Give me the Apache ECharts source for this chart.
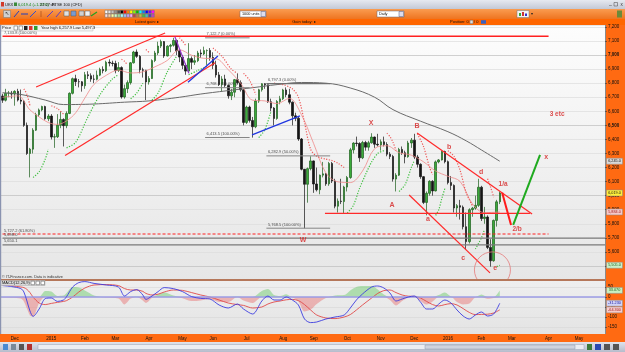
<!DOCTYPE html>
<html><head><meta charset="utf-8">
<script src="https://cdn.jsdelivr.net/npm/echarts@6/dist/echarts.min.js"></script>
<style>html,body{margin:0;padding:0;background:#e6e6e6;overflow:hidden}#c{width:625px;height:352px}</style>
</head><body><div id="c"></div>
<script>
// ---------- DATA (2-trading-day candles, FTSE 100 CFD) ----------
// [open, close, low, high]
const candles = [
[6709,6679,6660,6725],[6679,6729,6670,6760],[6729,6729,6700,6745],[6729,6723,6690,6745],[6723,6742,6640,6750],
[6742,6680,6670,6760],[6680,6672,6650,6755],[6672,6500,6490,6680],[6500,6300,6290,6520],[6300,6331,6130,6340],
[6331,6466,6300,6480],[6466,6576,6460,6590],[6576,6610,6560,6620],[6610,6634,6600,6640],[6634,6547,6540,6640],
[6547,6566,6530,6580],[6566,6417,6400,6580],[6417,6419,6340,6440],[6419,6501,6410,6580],[6501,6542,6480,6600],
[6542,6498,6350,6550],[6498,6585,6480,6600],[6585,6728,6580,6735],[6728,6832,6720,6840],[6832,6811,6780,6860],
[6811,6810,6770,6830],[6810,6782,6740,6815],[6782,6860,6760,6880],[6860,6853,6830,6885],[6853,6829,6810,6870],
[6829,6828,6800,6860],[6828,6857,6820,6890],[6857,6898,6850,6910],[6898,6889,6870,6920],[6889,6949,6880,6960],
[6949,6943,6920,6970],[6943,6940,6920,6960],[6940,6890,6870,6960],[6890,6911,6880,6950],[6911,6702,6690,6920],
[6702,6761,6690,6790],[6761,6804,6730,6820],[6804,6945,6790,6950],[6945,7022,6940,7030],[7022,6991,6980,7040],
[6991,6895,6870,7000],[6895,6892,6840,6910],[6892,6809,6680,6895],[6809,6833,6790,6850],[6833,6961,6830,6970],
[6961,7015,6950,7030],[7015,7064,7000,7095],[7064,7096,7050,7110],[7096,6994,6980,7100],[6994,7063,6990,7070],
[7063,7070,7020,7080],[7070,7104,7060,7123],[7104,7031,7000,7110],[7031,6986,6950,7040],[6986,6927,6900,7000],
[6927,6886,6860,6940],[6886,6975,6880,7085],[6975,6949,6900,6990],[6949,6960,6930,7000],[6960,7015,6950,7030],
[7015,7008,6980,7040],[7008,7032,7000,7060],[7032,7033,6930,7040],[7033,6984,6960,7050],[6984,6928,6900,7020],
[6928,6859,6840,6960],[6859,6790,6780,6880],[6790,6830,6740,6850],[6830,6784,6770,6860],[6784,6710,6690,6790],
[6710,6736,6680,6760],[6736,6825,6700,6830],[6825,6804,6790,6870],[6804,6753,6740,6820],[6753,6521,6500,6760],
[6521,6630,6510,6640],[6630,6535,6520,6640],[6535,6490,6413,6560],[6490,6673,6480,6690],[6673,6753,6660,6760],
[6753,6796,6740,6800],[6796,6789,6760,6800],[6789,6668,6660,6790],[6668,6623,6600,6690],[6623,6549,6500,6630],
[6549,6670,6540,6680],[6670,6689,6650,6710],[6689,6752,6680,6760],[6752,6718,6700,6770],[6718,6665,6650,6760],
[6665,6568,6500,6670],[6568,6551,6530,6590],[6551,6403,6390,6560],[6403,6188,6180,6410],[6188,6081,5768,6100],
[6081,6192,5950,6200],[6192,6247,6180,6280],[6247,6083,6020,6250],[6083,6042,6030,6200],[6042,6146,6010,6150],
[6146,6155,6130,6240],[6155,6084,6070,6160],[6084,6229,6070,6240],[6229,6104,6090,6240],[6104,5925,5910,6120],
[5925,5961,5880,5980],[5961,5958,5940,6120],[5958,6061,5877,6070],[6061,6129,6030,6140],[6129,6326,6120,6340],
[6326,6374,6300,6380],[6374,6371,6350,6420],[6371,6269,6240,6380],[6269,6378,6260,6390],[6378,6345,6320,6390],
[6345,6376,6320,6390],[6376,6417,6370,6444],[6417,6366,6340,6420],[6366,6361,6350,6440],[6361,6383,6320,6400],
[6383,6364,6350,6420],[6364,6295,6280,6380],[6295,6279,6260,6310],[6279,6118,6100,6290],[6118,6146,6030,6160],
[6146,6329,6140,6340],[6329,6305,6290,6350],[6305,6277,6230,6320],[6277,6375,6270,6390],[6375,6395,6340,6410],
[6395,6275,6260,6440],[6275,6223,6200,6290],[6223,6135,6120,6230],[6135,5952,5940,6140],[5952,6017,5860,6030],
[6017,6102,6000,6110],[6102,6034,6000,6110],[6034,6240,6030,6250],[6240,6254,6230,6260],[6254,6314,6250,6320],
[6314,6242,6230,6320],[6242,6093,6080,6250],[6093,6073,6040,6140],[6073,5912,5880,6080],[5912,5929,5850,5940],
[5929,5918,5830,5970],[5918,5779,5760,5930],[5779,5673,5620,5880],[5673,5900,5660,5910],[5900,5911,5850,5920],
[5911,5931,5900,6000],[5931,6060,5920,6120],[6060,5837,5820,6070],[5837,5848,5800,5920],[5848,5632,5620,5860],
[5632,5537,5495,5690],[5537,5824,5530,5830],[5824,5956,5780,5970],[5956,6019,5940,6030]
];
// [bucket, value]
const greyMA = [[0,6732],[6,6720],[14,6680],[20,6648],[30,6652],[40,6665],[48,6674],[58,6700],[65,6723],[75,6750],[82,6768],[90,6790],[98,6805],[106,6800],[114,6766],[122,6700],[128,6612],[137,6530],[146,6455],[152,6390],[157,6325],[163,6245]];
const pinkMA = [[0,6700],[5,6710],[9,6610],[12,6560],[15,6520],[18,6507],[21,6532],[24,6590],[27,6695],[30,6792],[34,6856],[38,6893],[42,6873],[46,6881],[50,6917],[54,6962],[58,7038],[62,6999],[66,6977],[70,6974],[74,6896],[78,6802],[82,6679],[86,6674],[90,6655],[94,6692],[98,6575],[102,6370],[106,6162],[110,6098],[114,6093],[118,6175],[122,6335],[126,6355],[130,6306],[134,6288],[138,6241],[142,6175],[146,6138],[150,6101],[154,5943],[158,5879],[163,5884]];
const sarUp = [
 [[10,6130],[12,6170],[14,6260],[15,6330]],
 [[21,6340],[24,6380],[28,6560],[32,6720],[36,6830],[38,6860]],
 [[42,6690],[44,6730],[46,6800]],
 [[49,6680],[51,6730],[54,6880],[57,6990]],
 [[61,6860],[64,6890],[67,6920]],
 [[84,6413],[86,6470],[88,6600]],
 [[113,5877],[115,5930],[117,6050],[119,6150],[121,6240],[123,6300],[125,6320]],
 [[130,6030],[132,6080],[134,6200],[135,6250]],
 [[142,5860],[143,5900],[144,5980],[145,6050]],
 [[155,5620],[157,5700],[158,5760]],
 [[162,5495],[163,5505]]
];
const sarDown = [
 [[7,6760],[8,6720],[9,6640]],
 [[16,6640],[18,6620],[20,6580]],
 [[39,6970],[40,6955],[41,6930]],
 [[47,7040],[48,7020]],
 [[58,7123],[59,7100],[60,7070]],
 [[69,7050],[72,6990],[75,6900],[77,6870]],
 [[79,6870],[81,6820],[83,6720]],
 [[89,6800],[92,6790],[95,6760],[97,6700],[99,6520],[101,6330],[103,6280],[106,6260],[108,6250],[110,6230],[112,6200]],
 [[126,6444],[127,6420],[128,6380],[129,6320]],
 [[136,6440],[138,6350],[140,6200],[141,6150]],
 [[146,6320],[148,6280],[150,6180],[152,6020],[154,5930]],
 [[159,6120],[160,6060],[161,5990]]
];
const fibText  = ['7,133.8 (100.00%)','5,727.2 (61.80%)','5,698.0','5,650.1','7,122.7 (0.00%)','6,768.1 (50.00%)','6,413.5 (100.00%)','6,797.3 (0.00%)','6,282.9 (50.00%)','5,768.5 (100.00%)'];
const fibPrice = [7133.8, 5727.2, 5698, 5650, 7122.7, 6768.1, 6413.5, 6797.3, 6282.9, 5768.5];
const fibFrom  = [0, 0, 0, 0, 66.4, 66.4, 66.4, 86.5, 86.5, 86.5];
const fibTo    = [179, 179, 197.5, 197.5, 81, 81, 81, 107.4, 107.4, 107.4];
const trendRed   = [[[11.0,6773],[53.3,7157]], [[20.5,6286],[69.7,6946]], [[105.7,5874],[172.9,5874]], [[135.9,6446],[173.6,5870]], [[133.3,6005],[159.8,5451]]];
const trendPurple= [[[56.5,7130],[61.1,6870]]];
const trendBlue  = [[[60.8,6806],[70.6,6993]], [[81.8,6432],[97.5,6567]]];
const projRed    = [[163.8,6020],[166.7,5792]];
const projGreen  = [[167.4,5792],[176.2,6290]];
const waveText = ['W','X','A','B','a','b','c','d','e','1/a','2/b','x','3 etc'];
const waveAt   = [[98.5,5685],[120.8,6517],[127.7,5934],[135.9,6496],[139.5,5835],[146.4,6347],[151.0,5558],[156.9,6169],[161.5,5487],[164.1,6084],[168.7,5764],[178.2,6276],[181.8,6581]];
const circleMarks = [[160.6,5472]];
const macdIdx = [0,3,6,7,8,9,10,12,14,16,18,20,21,23,25,27,30,34,38,40,42,44,46,47,49,51,53,56,59,62,65,68,71,74,77,79,82,85,87,89,91,93,95,97,99,101,103,106,109,112,114,116,118,121,123,125,127,129,131,133,135,137,139,141,143,145,147,149,151,153,155,157,159,161,163];
const macdVals = [57,52,42,25,-20,-70,-97,-60,-8,-5,-22,-15,2,50,72,77,68,60,50,5,27,37,10,-12,5,27,47,42,27,2,-7,-10,-40,-55,-35,-60,-85,-20,5,-15,-15,0,-15,-40,-110,-128,-125,-110,-100,-90,-55,-15,15,50,55,45,20,-20,-10,0,5,-25,-60,-60,-35,-15,-30,-65,-95,-110,-90,-75,-95,-85,-31.23];
const signalVals = [60,56,50,47,38,22,0,-30,-38,-32,-27,-22,-18,0,25,45,60,62,57,42,35,35,28,18,10,14,25,35,33,22,10,0,-15,-30,-38,-42,-55,-50,-35,-25,-20,-14,-12,-18,-38,-65,-90,-105,-108,-100,-88,-65,-40,-5,18,32,35,22,10,4,3,-5,-22,-38,-45,-38,-33,-40,-58,-77,-88,-87,-86,-80,-64.30];
const monthNames = ['Jan','Feb','Mar','Apr','May','Jun','Jul','Aug','Sep','Oct','Nov','Dec'];

// ---------- categories: 2-trading-day buckets ----------
const cats = [];
{ let t = Date.UTC(2014,10,19), n = 0;
  while (cats.length < 198) { const d = new Date(t), w = d.getUTCDay();
    if (w !== 0 && w !== 6) { if (n % 2 === 0) cats.push(d.toISOString().slice(0,10)); n++; }
    t += 86400000; } }
const labelIdx = new Set();
for (let i = 1; i < cats.length; i++) if (cats[i].slice(5,7) !== cats[i-1].slice(5,7)) labelIdx.add(i);

const fmt = (v, d) => { const s = Math.abs(v).toFixed(d); const p = s.split('.');
  return (v < 0 ? '-' : '') + p[0].replace(/\B(?=(\d{3})+$)/g, ',') + (p[1] !== undefined ? '.' + p[1] : ''); };
const FONT = 'Liberation Sans, Arial, sans-serif';
const grad = (a, b) => ({type:'linear',x:0,y:0,x2:0,y2:1,colorStops:[{offset:0,color:a},{offset:1,color:b}]});

const series = [];
series.push({type:'candlestick', xAxisIndex:0, yAxisIndex:0, data:candles, barWidth:2, z:3,
  itemStyle:{color:'#3aaa3a', color0:'#151515', borderColor:'#1c5e1c', borderColor0:'#151515', borderWidth:0.7}});
const seg = (data, color, width, type, z, smooth) => ({type:'line', xAxisIndex:1, yAxisIndex:0, data, symbol:'none', silent:true,
  smooth: smooth || false, lineStyle:{color, width, type: type || 'solid'}, z: z || 4});
series.push(seg(greyMA, '#6a6a6a', 1, 'solid', 4, 0.4));
series.push(seg(pinkMA, '#ef8a8a', 0.8, 'solid', 4, 0.35));
sarUp.forEach(s => series.push(seg(s, '#3fbf3f', 1.2, [1.2,1.5], 4, 0.3)));
sarDown.forEach(s => series.push(seg(s, '#ee5a5a', 1.2, [1.2,1.5], 4, 0.3)));
fibPrice.forEach((p, i) => {
  let color = '#858585', w = 1, type = 'solid';
  if (i === 0) { color = '#ff2020'; w = 1.5; }
  if (i === 1) { color = '#ff2020'; w = 1.2; type = [3,2]; }
  if (i === 2 || i === 3) { color = '#7a7a7a'; w = 1.3; }
  if (i === 7) { color = '#6f6f6f'; w = 1.2; }
  series.push(seg([[fibFrom[i], p], [fibTo[i], p]], color, w, type, 5));
});
trendRed.forEach(s => series.push(seg(s, '#ff2a2a', 1.2, 'solid', 5)));
trendPurple.forEach(s => series.push(seg(s, '#9a3ad0', 1.2, 'solid', 5)));
trendBlue.forEach(s => series.push(seg(s, '#1f36e0', 1.3, 'solid', 5)));
series.push(seg(projRed, '#ff1a1a', 2, 'solid', 6));
series.push(seg(projGreen, '#1faa1f', 2, 'solid', 6));
series.push({type:'scatter', xAxisIndex:1, yAxisIndex:0, symbolSize:1, silent:true, z:7,
  itemStyle:{color:'rgba(0,0,0,0)'},
  data: fibPrice.map((p, i) => ({value:[fibFrom[i], p], label:{show:true, position:'right', distance:1, offset:[0,-3.5],
        formatter: fibText[i], fontSize:4, color:'#222', fontFamily:FONT}}))
    .concat(waveAt.map((w, i) => ({value:w, label:{show:true, position:'inside', formatter: waveText[i],
        fontSize: waveText[i].length > 1 ? 6.5 : 7, fontWeight:'bold', color:'#d42222', fontFamily:FONT}})))});
series.push({type:'custom', xAxisIndex:1, yAxisIndex:0, clip:true, silent:true, z:6, data: circleMarks,
  renderItem: (params, api) => { const c = api.coord([api.value(0), api.value(1)]);
    return {type:'circle', shape:{cx:c[0], cy:c[1], r:18}, style:{fill:'none', stroke:'#e57a7a', lineWidth:0.8}}; }});
// MACD panel
const hist = macdIdx.map((b, i) => [b, macdVals[i] - signalVals[i]]);
series.push({type:'line', xAxisIndex:3, yAxisIndex:2, symbol:'none', smooth:0.3, silent:true, z:3,
  data: hist.map(h => [h[0], Math.max(h[1], 0)]), lineStyle:{width:0}, areaStyle:{color:'rgba(100,200,100,0.65)'}});
series.push({type:'line', xAxisIndex:3, yAxisIndex:2, symbol:'none', smooth:0.3, silent:true, z:3,
  data: hist.map(h => [h[0], Math.min(h[1], 0)]), lineStyle:{width:0}, areaStyle:{color:'rgba(232,110,110,0.65)'}});
series.push({type:'line', xAxisIndex:3, yAxisIndex:2, symbol:'none', smooth:0.3, silent:true, z:4,
  data: macdIdx.map((b, i) => [b, signalVals[i]]), lineStyle:{color:'#e04a4a', width:0.9}});
series.push({type:'line', xAxisIndex:3, yAxisIndex:2, symbol:'none', smooth:0.3, silent:true, z:5,
  data: macdIdx.map((b, i) => [b, macdVals[i]]), lineStyle:{color:'#3c3ce0', width:0.9},
  markLine:{silent:true, symbol:'none', label:{show:false}, data:[{yAxis:0}], lineStyle:{color:'#9c9ce6', width:1.5, type:'solid'}}});

const chart = echarts.init(document.getElementById('c'), null, {renderer:'canvas'});
const option = {
  animation:false, backgroundColor:'#e6e6e6', textStyle:{fontFamily:FONT},
  grid:[
    {left:1, right:20, top:25, height:255, show:true, borderWidth:0, containLabel:false, outerBoundsMode:'none', backgroundColor:grad('#fdfdfd','#e6e6e6')},
    {left:1, right:20, top:280, height:57, show:true, borderWidth:0, containLabel:false, outerBoundsMode:'none', backgroundColor:grad('#efefef','#e3e3e3')}
  ],
  xAxis:[
    {type:'category', gridIndex:0, data:cats, boundaryGap:true, position:'bottom', z:50,
     axisLine:{show:true, onZero:false, lineStyle:{color:'#b5775a', width:2}}, axisTick:{show:false}, axisLabel:{show:false}, splitLine:{show:false}},
    {type:'value', gridIndex:0, min:-0.5, max:197.5, show:false, position:'top'},
    {type:'category', gridIndex:1, data:cats, boundaryGap:true, position:'bottom', z:120,
     axisLine:{show:false}, axisTick:{show:false}, splitLine:{show:false},
     axisLabel:{show:true, interval:(i) => labelIdx.has(i), margin:-1, fontSize:4.5, color:'#111', fontFamily:FONT,
       formatter:(v) => { const m = +v.slice(5,7); return m === 1 ? v.slice(0,4) : monthNames[m-1]; }}},
    {type:'value', gridIndex:1, min:-0.5, max:197.5, show:false, position:'top'}
  ],
  yAxis:[
    {type:'value', gridIndex:0, min:5400, max:7214, interval:100, position:'left', axisLine:{show:false}, axisTick:{show:false}, axisLabel:{show:false},
     splitLine:{show:true, lineStyle:{color:['#dcdcdc','#bdbdbd','#dcdcdc','#dcdcdc','#dcdcdc'], width:0.7}}},
    {type:'value', gridIndex:0, min:5400, max:7214, interval:100, position:'right', z:120, axisLine:{show:false}, splitLine:{show:false},
     axisTick:{show:true, length:2, lineStyle:{color:'#333', width:0.6}},
     axisLabel:{show:true, margin:3, fontSize:4.5, color:'#111', fontFamily:FONT, showMinLabel:false, showMaxLabel:false,
       formatter:(v) => v % 500 === 0 ? '{b|' + fmt(v,0) + '}' : fmt(v,0), rich:{b:{fontWeight:'bold', fontSize:4.5, fontFamily:FONT}}}},
    {type:'value', gridIndex:1, min:-200, max:85, interval:50, position:'left', axisLine:{show:false}, axisTick:{show:false}, axisLabel:{show:false},
     splitLine:{show:true, lineStyle:{color:'#d6d6d6', width:0.6}}},
    {type:'value', gridIndex:1, min:-200, max:85, interval:50, position:'right', z:120, axisLine:{show:false}, splitLine:{show:false},
     axisTick:{show:true, length:2, lineStyle:{color:'#333', width:0.6}},
     axisLabel:{show:true, margin:3, fontSize:4.5, color:'#111', fontFamily:FONT, showMinLabel:false, showMaxLabel:false}}
  ],
  series
};
chart.setOption(option);

// ---------- chrome (window / toolbars) ----------
const chrome = [];
const R = (x,y,w,h,fill,stroke,z) => chrome.push({type:'rect', silent:true, z: z || 100, shape:{x,y,width:w,height:h}, style:{fill, stroke: stroke || null, lineWidth: stroke ? 0.5 : 0}});
const T = (x,y,text,size,fill,align,weight,z) => chrome.push({type:'text', silent:true, z: z || 101, x, y, style:{text, fontSize:size, fill, align: align || 'left', verticalAlign:'middle', fontWeight: weight || 'normal', fontFamily:FONT}});
const L = (x1,y1,x2,y2,stroke,w) => chrome.push({type:'line', silent:true, z:101, shape:{x1,y1,x2,y2}, style:{stroke, lineWidth:w}});
R(0,0,625,9,grad('#e6e9f0','#c3c8d5'));
R(1,2,3,4.5,'#d23a2a'); T(5,4.6,'UKX',4,'#111'); R(14,2.5,3,3.5,'#3a8a3a');
T(18,4.6,'6,019.4 (+1.37%)',4,'#178a17'); T(40,4.6,'21:27:45',4,'#111'); T(52,4.6,'FTSE 100 (CFD)',4,'#111');
T(609,4,'_',5,'#333'); R(614,2.5,3.5,3.5,'none','#444'); T(621.5,4.7,'x',4.5,'#333','center');
R(0,9,625,10,grad('#fa9c50','#ee7420'));
R(3.5,10.5,7,7,'#cfcfcf','#777'); T(7,14,'↖',5,'#333','center');
L(14,17,19,11,'#2040c0',1); L(21,14,28,14,'#2040c0',1); L(30,17,36,11,'#3050d0',1); L(41,11,41,17,'#a04010',0.6);
L(47,17,53,11,'#6040c0',1); L(56,17,61,11,'#6040c0',1);
R(64,11,5,5,'#e0e0e0','#555'); R(71,11,5,5,'#7a9ad0','#555'); R(79,11,5,5,'#d0d0d0','#555'); R(85,11,5,5,'#f0f0f0','#555'); L(91,16,97,12,'#20a020',1.2);
const pal = ['#ffffff','#e0e0e0','#c0c0c0','#909090','#505050','#000000','#ff0000','#ff8000','#ffff00','#80ff00','#00c000','#00ffff','#0080ff','#0000ff','#8000ff','#ff00ff'];
const pal2 = ['#ffe0e0','#ffd0a0','#ffffa0','#d0ffd0','#a0e0a0','#a0ffff','#a0c0ff','#c0a0ff','#ffa0ff','#c04040','#c08040','#c0c040','#40c040','#40c0c0','#4040c0','#c040c0'];
pal.forEach((c,i) => R(105 + i*3.1, 10.3, 2.8, 3.2, c, '#777'));
pal2.forEach((c,i) => R(105 + i*3.1, 14, 2.8, 3.2, c, '#777'));
R(240,11,26,6,'#ffffff','#667'); T(242,14,'1000 units',3.8,'#111'); R(261,11.5,4.5,5,'#dde','#557');
R(377,11,27,6,'#ffffff','#667'); T(379,14,'Daily',3.8,'#111'); R(399,11.5,4.5,5,'#dde','#557');
R(517,10.5,12,7,'#f4f4f4','#777'); R(519,13,2,3,'#3a3'); R(522,12,2,4,'#c33'); R(525,13.5,2,2.5,'#33c'); T(531,14,'▾',4,'#222');
R(617,10.5,5,7,'#6a8a3a');
R(0,19,625,6,'#ff6600');
T(147,22,'Latest gain: ▸',4,'#111','center'); T(304,22,'Gain today: ▸',4,'#111','center');
T(450,22,'Position: 0',4,'#111'); R(470,20.2,3,3.5,'#ddd','#666'); T(474,22,'/ 0',4,'#111'); R(481,20.2,5,3.5,'#3a60c0');
R(0,25,93,6,'#f2f2f2','#b8b8b8'); T(2,28,'Price',4,'#111');
R(14,26,3.5,4,'#fff','#555'); R(19,26,3.5,4,'#fff','#555'); R(24,26,3.5,4,'#222'); R(29,26,3.5,4,'#e03030'); R(34,26,3.5,4,'#30a030');
T(41,28,'Year high 6,257.9 Low 5,497.3',4,'#111');
R(0,25,1.2,317,'#8a93b0');
R(605,25,20,309,'#ff6a12'); L(605.5,25,605.5,334,'#8a8a8a',1);
R(0,334,625,8,'#ff6a12');
R(0,342,625,10,grad('#dfe3ec','#b6bccb'));
R(3,344,5,6,'#4a8ad0'); R(11,344,5,6,'#7a8a9a'); R(19,344,5,6,'#555'); R(27,344,5,6,'#b03030');
R(38,344.5,546,5,'#eceef3','#9aa2b5'); R(425,345,150,4,'#cfd4df','#8f98ac');
R(587,344,5,6,'#3a7a3a'); R(595,344,6,6,'#2a4ab0'); R(604,344,6,6,'#555'); R(613,344,6,6,'#555');
R(1,280.5,44,5,'#dadada','#aaa'); T(2,283,'MACD(12,26,9)',4,'#111');
R(31,281.2,3.5,3.5,'#fff','#555'); R(36,281.2,3.5,3.5,'#fff','#555'); R(41,281.2,3.5,3.5,'#fff','#555');
T(2,276.5,'© IT-Finance.com. Data is indicative',3.8,'#333');

// ---------- value boxes on the right axis (placed through the axis scales) ----------
const lastClose = candles[candles.length-1][1];
const boxes = [
  {axis:0, v: greyMA[greyMA.length-1][1], bg:'#d9d9d9', fg:'#111', d:1},
  {axis:0, v: lastClose, bg:'#fff03a', fg:'#111', d:1},
  {axis:0, v: pinkMA[pinkMA.length-1][1], bg:'#f6c9c9', fg:'#a02020', d:1},
  {axis:0, v: sarUp[sarUp.length-1][sarUp[sarUp.length-1].length-1][1], bg:'#c9f0c9', fg:'#206020', d:1},
  {axis:2, v: hist[hist.length-1][1], bg:'#c9f0c0', fg:'#206020', d:3},
  {axis:2, v: macdVals[macdVals.length-1], bg:'#d0d3f6', fg:'#2020a0', d:3},
  {axis:2, v: signalVals[signalVals.length-1], bg:'#f6cccc', fg:'#a02020', d:3}
];
boxes.forEach(b => {
  const y = chart.convertToPixel({yAxisIndex: b.axis}, b.v);
  chrome.push({type:'rect', silent:true, z:130, shape:{x:606.5, y:y-3, width:16, height:6}, style:{fill:b.bg, stroke:'#888', lineWidth:0.5}});
  chrome.push({type:'text', silent:true, z:131, x:614.5, y:y, style:{text: fmt(b.v, b.d), fontSize:3.8, fill:b.fg, align:'center', verticalAlign:'middle', fontFamily:FONT}});
});
chart.setOption({graphic: chrome});
</script>
</body></html>
